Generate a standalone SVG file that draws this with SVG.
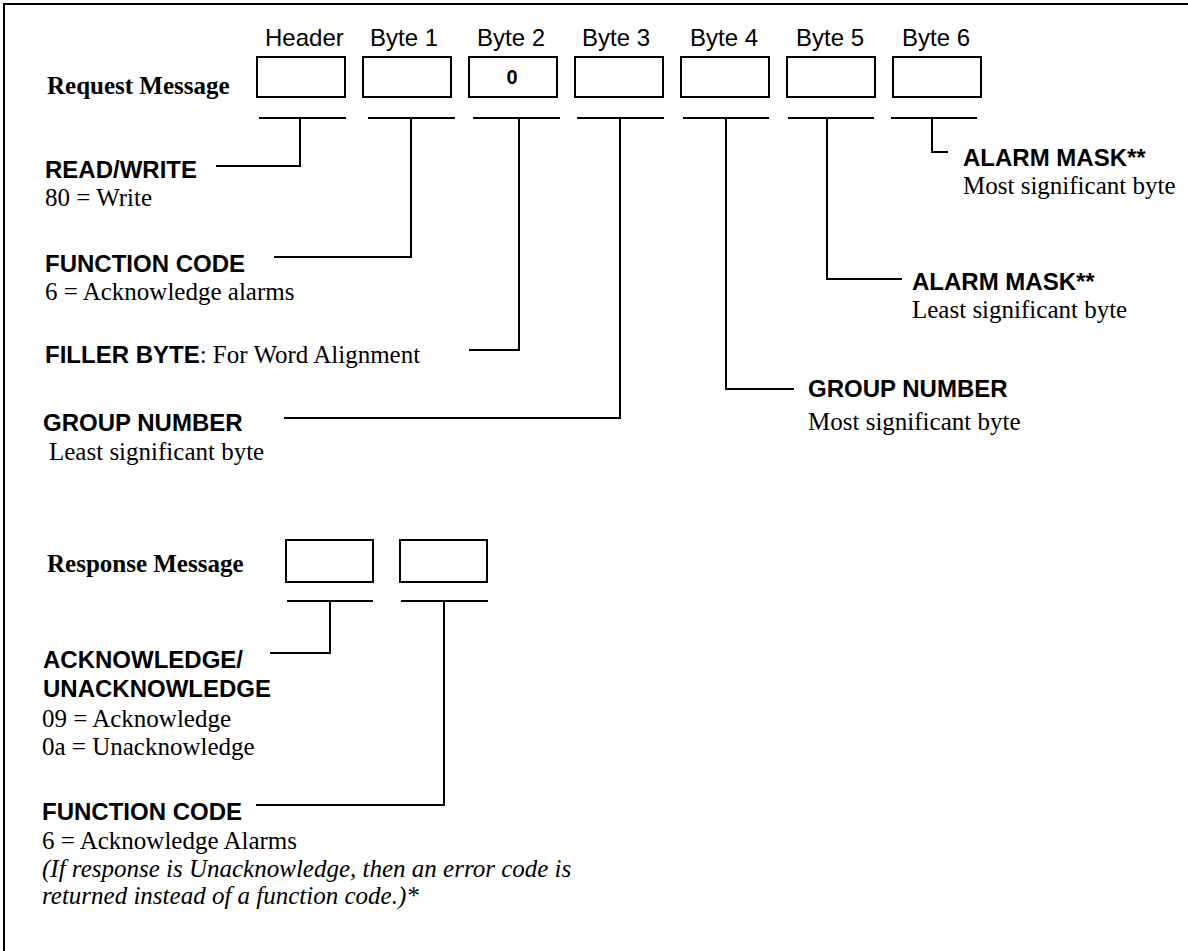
<svg xmlns="http://www.w3.org/2000/svg" width="1188" height="951" viewBox="0 0 1188 951">
  <style>
    .frame { stroke: #000; stroke-width: 2; fill: none; }
    .box { fill: #fff; stroke: #000; stroke-width: 2; }
    .bar { stroke: #000; stroke-width: 2; fill: none; }
    .lead { stroke: #000; stroke-width: 2; fill: none; }
    .col { font-family: "Liberation Sans", Arial, sans-serif; font-size: 24px; fill: #000; }
    .title { font-family: "Liberation Serif", "Times New Roman", serif; font-size: 25px; font-weight: bold; fill: #000; }
    .val { font-family: "Liberation Sans", Arial, sans-serif; font-size: 20px; font-weight: bold; fill: #000; }
    .head { font-family: "Liberation Sans", Arial, sans-serif; font-size: 24px; font-weight: bold; fill: #000; }
    .desc { font-family: "Liberation Serif", "Times New Roman", serif; font-size: 25px; fill: #000; }
    .note { font-family: "Liberation Serif", "Times New Roman", serif; font-size: 25px; font-style: italic; fill: #000; }
  </style>

  <!-- page frame: top and left edges only -->
  <path class="frame" d="M4 951 V4 H1188"/>

  <!-- request message row -->
  <g id="request-title"><text class="title" x="47" y="94">Request Message</text></g>

  <g id="req-header">
    <text class="col" x="265" y="46">Header</text>
    <rect class="box" x="257" y="57" width="88" height="40"/>
    <line class="bar" x1="259" y1="118" x2="346" y2="118"/>
  </g>
  <g id="req-byte1">
    <text class="col" x="370" y="46">Byte 1</text>
    <rect class="box" x="363" y="57" width="88" height="40"/>
    <line class="bar" x1="368" y1="118" x2="455" y2="118"/>
  </g>
  <g id="req-byte2">
    <text class="col" x="477" y="46">Byte 2</text>
    <rect class="box" x="469" y="57" width="88" height="40"/>
    <text class="val" x="512" y="84" text-anchor="middle">0</text>
    <line class="bar" x1="473" y1="118" x2="560" y2="118"/>
  </g>
  <g id="req-byte3">
    <text class="col" x="582" y="46">Byte 3</text>
    <rect class="box" x="575" y="57" width="88" height="40"/>
    <line class="bar" x1="577" y1="118" x2="664" y2="118"/>
  </g>
  <g id="req-byte4">
    <text class="col" x="690" y="46">Byte 4</text>
    <rect class="box" x="681" y="57" width="88" height="40"/>
    <line class="bar" x1="683" y1="118" x2="769" y2="118"/>
  </g>
  <g id="req-byte5">
    <text class="col" x="796" y="46">Byte 5</text>
    <rect class="box" x="787" y="57" width="88" height="40"/>
    <line class="bar" x1="788" y1="118" x2="874" y2="118"/>
  </g>
  <g id="req-byte6">
    <text class="col" x="902" y="46">Byte 6</text>
    <rect class="box" x="893" y="57" width="88" height="40"/>
    <line class="bar" x1="891" y1="118" x2="977" y2="118"/>
  </g>

  <!-- request field descriptions -->
  <g id="desc-read-write">
    <text class="head" x="45" y="178">READ/WRITE</text>
    <text class="desc" x="45" y="206">80 = Write</text>
  </g>
  <g id="desc-function-code">
    <text class="head" x="45" y="272">FUNCTION CODE</text>
    <text class="desc" x="45" y="300">6 = Acknowledge alarms</text>
  </g>
  <g id="desc-filler">
    <text x="45" y="363"><tspan class="head">FILLER BYTE</tspan><tspan class="desc">: For Word Alignment</tspan></text>
  </g>
  <g id="desc-group-lsb">
    <text class="head" x="43" y="431">GROUP NUMBER</text>
    <text class="desc" x="49" y="460">Least significant byte</text>
  </g>
  <g id="desc-group-msb">
    <text class="head" x="808" y="397">GROUP NUMBER</text>
    <text class="desc" x="808" y="430">Most significant byte</text>
  </g>
  <g id="desc-mask-lsb">
    <text class="head" x="912" y="290">ALARM MASK**</text>
    <text class="desc" x="912" y="318">Least significant byte</text>
  </g>
  <g id="desc-mask-msb">
    <text class="head" x="963" y="166">ALARM MASK**</text>
    <text class="desc" x="963" y="194">Most significant byte</text>
  </g>

  <!-- response message row -->
  <g id="response-title"><text class="title" x="47" y="572">Response Message</text></g>
  <g id="resp-byte1">
    <rect class="box" x="286" y="540" width="87" height="42"/>
    <line class="bar" x1="287" y1="601" x2="373" y2="601"/>
  </g>
  <g id="resp-byte2">
    <rect class="box" x="400" y="540" width="87" height="42"/>
    <line class="bar" x1="401" y1="601" x2="488" y2="601"/>
  </g>

  <!-- response field descriptions -->
  <g id="desc-ack">
    <text class="head" x="43" y="668">ACKNOWLEDGE/</text>
    <text class="head" x="43" y="697">UNACKNOWLEDGE</text>
    <text class="desc" x="42" y="727">09 = Acknowledge</text>
    <text class="desc" x="42" y="755">0a = Unacknowledge</text>
  </g>
  <g id="desc-resp-function">
    <text class="head" x="42" y="820">FUNCTION CODE</text>
    <text class="desc" x="42" y="849">6 = Acknowledge Alarms</text>
    <text class="note" x="42" y="877">(If response is Unacknowledge, then an error code is</text>
    <text class="note" x="42" y="904">returned instead of a function code.)*</text>
  </g>

  <!-- leader lines from each byte to its description -->
  <g id="connectors">
    <polyline class="lead" points="300,118 300,166 216,166"/>
    <polyline class="lead" points="411,118 411,257 274,257"/>
    <polyline class="lead" points="519,118 519,350 469,350"/>
    <polyline class="lead" points="620,118 620,418 284,418"/>
    <polyline class="lead" points="726,118 726,389 794,389"/>
    <polyline class="lead" points="827,118 827,279 902,279"/>
    <polyline class="lead" points="932,118 932,152 948,152"/>
    <polyline class="lead" points="330,601 330,653 270,653"/>
    <polyline class="lead" points="444,601 444,805 256,805"/>
  </g>
</svg>
